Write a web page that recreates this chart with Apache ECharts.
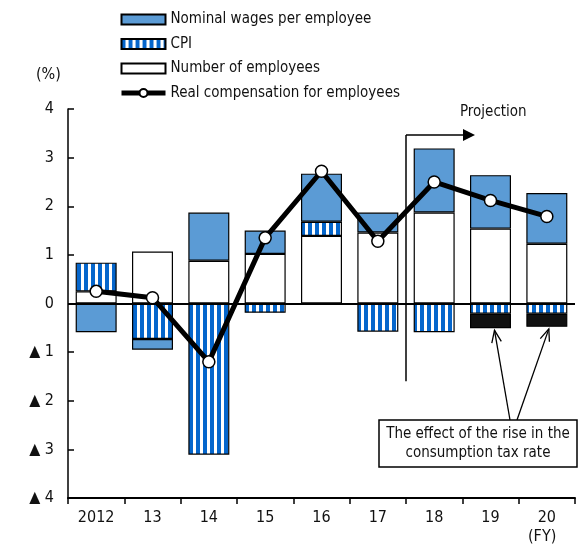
<!DOCTYPE html>
<html>
<head>
<meta charset="utf-8">
<script src="https://cdn.jsdelivr.net/npm/echarts@6/dist/echarts.min.js"></script>
<style>
  html, body { margin: 0; padding: 0; background: #fff; }
  #chart { width: 579px; height: 551px; }
</style>
</head>
<body>
<div id="chart"></div>
<script>
// fiscal years
const years = ['2012', '13', '14', '15', '16', '17', '18', '19', '20']
// contributions, % points
const employees = [0.25, 1.07, 0.88, 1.02, 1.39, 1.46, 1.87, 1.54, 1.23]
const cpi = [0.59, -0.73, -3.11, -0.19, 0.29, -0.58, -0.59, -0.21, -0.21]
const nominal = [-0.59, -0.22, 0.99, 0.48, 0.99, 0.41, 1.32, 1.10, 1.04]
const taxEffect = [null, null, null, null, null, null, null, -0.30, -0.27]
const realComp = [0.25, 0.12, -1.20, 1.35, 2.72, 1.28, 2.50, 2.12, 1.79]

const FONT = '"Liberation Sans Narrow", "DejaVu Sans Condensed", "Liberation Sans", sans-serif'

// vertical blue/white stripes for CPI
function stripes() {
	const c = document.createElement('canvas')
	c.width = 7
	c.height = 8
	const ctx = c.getContext('2d')
	ctx.fillStyle = '#fff'
	ctx.fillRect(0, 0, 7, 8)
	ctx.fillStyle = '#0566cc'
	ctx.fillRect(0, 0, 4, 8)
	return c
}

const chart = echarts.init(document.getElementById('chart'))
const barW = 41

const option = {
	animation: false,
	textStyle: { fontFamily: FONT },
	grid: { left: 68, right: 4, top: 109, bottom: 53 },
	legend: {
		orient: 'vertical',
		left: 114,
		top: 7,
		itemWidth: 44,
		itemHeight: 10,
		itemGap: 9.5,
		data: [
			{ name: 'Nominal wages per employee', icon: 'rect' },
			{ name: 'CPI', icon: 'rect' },
			{ name: 'Number of employees', icon: 'rect' },
			{ name: 'Real compensation for employees', lineStyle: { width: 5 } }
		],
		textStyle: { fontSize: 15, color: '#111', fontFamily: FONT }
	},
	xAxis: {
		type: 'category',
		data: years,
		axisLine: { onZero: false, lineStyle: { color: '#000', width: 2 } },
		axisTick: { show: true, length: 6, lineStyle: { color: '#000', width: 1.5 } },
		axisLabel: { color: '#111', fontSize: 16, margin: 12, fontFamily: FONT }
	},
	yAxis: {
		type: 'value',
		min: -4,
		max: 4,
		interval: 1,
		splitLine: { show: false },
		axisLine: { show: true, lineStyle: { color: '#000', width: 1.5 } },
		axisTick: { show: true, inside: true, length: 6, lineStyle: { color: '#000', width: 1.5 } },
		axisLabel: {
			color: '#111',
			fontSize: 16,
			margin: 14,
			fontFamily: FONT,
			formatter: (v) => (v < 0 ? '▲ ' + (-v) : String(v))
		}
	},
	series: [
		{
			name: 'Number of employees',
			type: 'bar',
			stack: 'a',
			barWidth: barW,
			data: employees,
			itemStyle: { color: '#fff', borderColor: '#000', borderWidth: 1.2 },
			markLine: {
				silent: true,
				symbol: 'none',
				label: { show: false },
				lineStyle: { color: '#000', width: 2, type: 'solid' },
				data: [{ yAxis: 0 }],
				z: 5
			}
		},
		{
			name: 'CPI',
			type: 'bar',
			stack: 'a',
			barWidth: barW,
			data: cpi,
			itemStyle: { color: { image: stripes(), repeat: 'repeat' }, borderColor: '#000', borderWidth: 1.2 }
		},
		{
			name: 'Nominal wages per employee',
			type: 'bar',
			stack: 'a',
			barWidth: barW,
			data: nominal,
			itemStyle: { color: '#5b9bd5', borderColor: '#000', borderWidth: 1.2 }
		},
		{
			name: 'Tax effect',
			type: 'bar',
			stack: 'a',
			barWidth: barW,
			data: taxEffect,
			itemStyle: { color: '#111', borderColor: '#000', borderWidth: 1.2 }
		},
		{
			name: 'Real compensation for employees',
			type: 'line',
			data: realComp,
			z: 10,
			symbol: 'circle',
			symbolSize: 12,
			lineStyle: { color: '#000', width: 5 },
			itemStyle: { color: '#fff', borderColor: '#000', borderWidth: 1.5 }
		}
	]
}
chart.setOption(option)

// annotations placed from data positions
const px = (i, v) => chart.convertToPixel({ xAxisIndex: 0, yAxisIndex: 0 }, [i, v])
const p17 = px(5, 0)
const p18 = px(6, 0)
const projX = (p17[0] + p18[0]) / 2
const projTop = 135
const projBottom = px(6, -1.6)[1]

function bottomOf(i) {
	let s = 0
	if (cpi[i] < 0) s += cpi[i]
	if (nominal[i] < 0) s += nominal[i]
	if (taxEffect[i] < 0) s += taxEffect[i]
	return s
}

const boxX = 379
const boxY = 420
const boxW = 198
const boxH = 47

function arrow(x0, y0, x1, y1) {
	const a = Math.atan2(y1 - y0, x1 - x0)
	const len = 13
	const spread = 0.38
	return [
		{ type: 'line', shape: { x1: x0, y1: y0, x2: x1, y2: y1 }, style: { stroke: '#000', lineWidth: 1.3 } },
		{
			type: 'polyline',
			shape: {
				points: [
					[x1 - len * Math.cos(a - spread), y1 - len * Math.sin(a - spread)],
					[x1, y1],
					[x1 - len * Math.cos(a + spread), y1 - len * Math.sin(a + spread)]
				]
			},
			style: { stroke: '#000', lineWidth: 1.3, fill: null }
		}
	]
}

const t19 = px(7, bottomOf(7))
const t20 = px(8, bottomOf(8))

chart.setOption({
	graphic: [
		{ type: 'text', left: 36, top: 67, style: { text: '(%)', font: '16px ' + FONT, fill: '#111' } },
		{ type: 'text', left: 528, top: 529, style: { text: '(FY)', font: '16px ' + FONT, fill: '#111' } },
		{ type: 'line', shape: { x1: projX, y1: projTop, x2: projX, y2: projBottom }, style: { stroke: '#000', lineWidth: 1.5 } },
		{ type: 'line', shape: { x1: projX, y1: projTop, x2: projX + 58, y2: projTop }, style: { stroke: '#000', lineWidth: 1.5 } },
		{
			type: 'polygon',
			shape: { points: [[projX + 57, projTop - 6], [projX + 69, projTop], [projX + 57, projTop + 6]] },
			style: { fill: '#000' }
		},
		{ type: 'text', left: projX + 54, top: 105, style: { text: 'Projection', font: '15px ' + FONT, fill: '#111' } },
		...arrow(510, boxY, t19[0] + 4, t19[1] + 2),
		...arrow(517, boxY, t20[0] + 2, t20[1] + 2),
		{
			type: 'rect',
			shape: { x: boxX, y: boxY, width: boxW, height: boxH },
			style: { fill: '#fff', stroke: '#000', lineWidth: 1.5 },
			z: 20
		},
		{
			type: 'text',
			x: boxX + boxW / 2,
			y: boxY + boxH / 2,
			z: 21,
			style: {
				text: 'The effect of the rise in the\nconsumption tax rate',
				font: '15px ' + FONT,
				fill: '#111',
				align: 'center',
				verticalAlign: 'middle',
				lineHeight: 19
			}
		}
	]
})
</script>
</body>
</html>
